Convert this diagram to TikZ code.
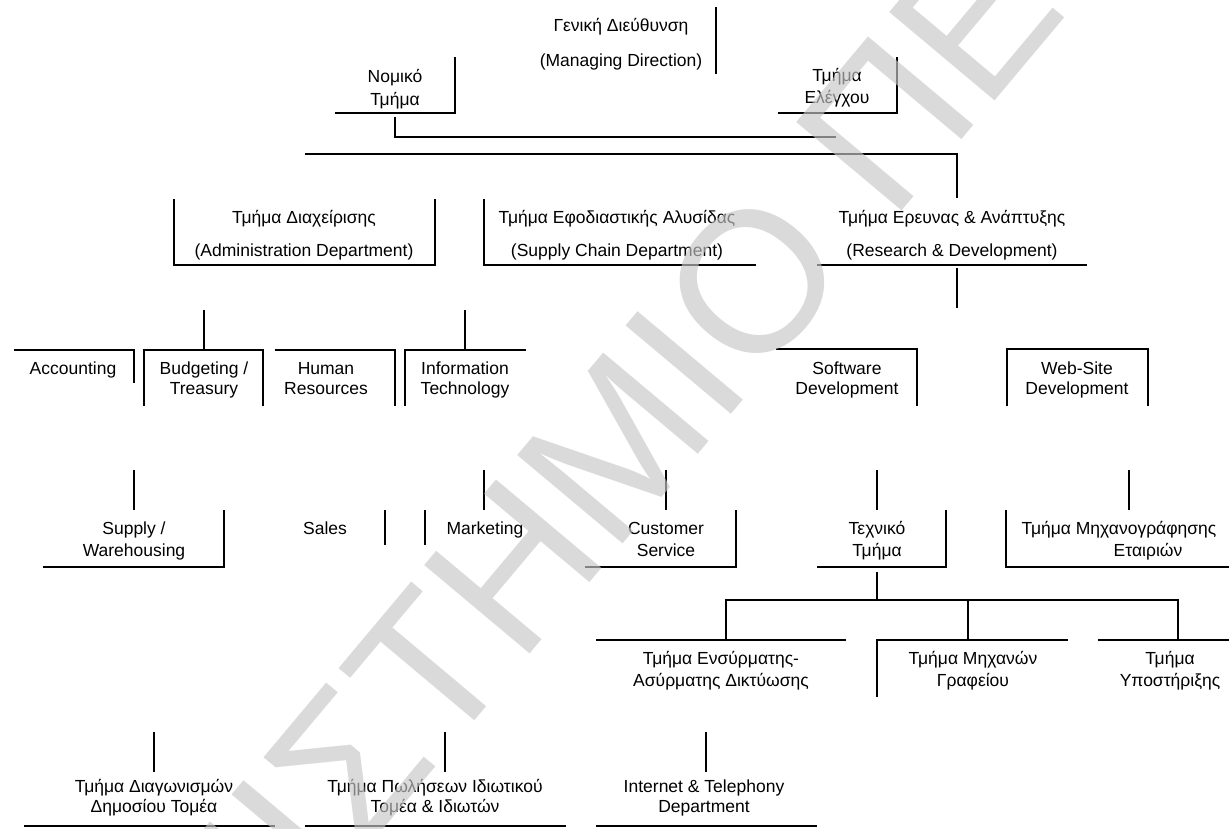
\documentclass[tikz,border=0pt]{standalone}
\usepackage{fontspec}
\setmainfont{Liberation Sans}
\begin{document}
\begin{tikzpicture}[x=1pt,y=-1pt]
\tikzset{
  lbl/.style={font=\fontsize{17.5}{20.5}\selectfont, inner sep=0pt, anchor=base},
  ln/.style={line width=1.8pt, draw=black},
  wm/.style={font=\fontsize{200}{200}\selectfont, text=black!22, text opacity=0.65, inner sep=0pt}
}
\fill[white] (0,0) rectangle (1229,828);
\useasboundingbox (0,0) rectangle (1229,828);

% ---------- top level ----------
\node[lbl] (gd1) at (621,31) {Γενική Διεύθυνση};
\node[lbl] (gd2) at (621,66) {(Managing Direction)};
\draw[ln] (716,7) -- (716,74);
\node[lbl] (legal1) at (395,82) {Νομικό};
\node[lbl] (legal2) at (395,105) {Τμήμα};
\draw[ln] (335,113) -- (455,113) -- (455,57);
\node[lbl] (ctrl1) at (837,81) {Τμήμα};
\draw[ln] (778,113) -- (897,113) -- (897,57);
\node[lbl] (ctrl2) at (837,103) {Ελέγχου};
\draw[ln] (395,117) -- (395,137) -- (836,137);
\draw[ln] (305,154) -- (957,154) -- (957,198);

% ---------- departments ----------
\node[lbl] (adm1) at (304,223) {Τμήμα Διαχείρισης};
\node[lbl] (adm2) at (304,256) {(Administration Department)};
\draw[ln] (174,199) -- (174,265) -- (435,265) -- (435,199);
\node[lbl] (sc1) at (617,223) {Τμήμα Εφοδιαστικής Αλυσίδας};
\node[lbl] (sc2) at (617,256) {(Supply Chain Department)};
\draw[ln] (484,199) -- (484,265) -- (756,265);
\node[lbl] (rd1) at (952,223) {Τμήμα Ερευνας \& Ανάπτυξης};
\node[lbl] (rd2) at (952,256) {(Research \& Development)};
\draw[ln] (817,265) -- (1087,265);
\draw[ln] (957,268) -- (957,308);

% ---------- third row ----------
\node[lbl] (acc) at (73,374) {Accounting};
\draw[ln] (14,350) -- (134,350) -- (134,383);
\node[lbl] (bud1) at (204,374) {Budgeting /};
\node[lbl] (bud2) at (204,394) {Treasury};
\draw[ln] (144,406) -- (144,350) -- (263,350) -- (263,406);
\draw[ln] (204,310) -- (204,350);
\node[lbl] (hr1) at (326,374) {Human};
\node[lbl] (hr2) at (326,394) {Resources};
\draw[ln] (275,350) -- (395,350) -- (395,406);
\node[lbl] (it1) at (465,374) {Information};
\node[lbl] (it2) at (465,394) {Technology};
\draw[ln] (405,406) -- (405,350) -- (526,350);
\draw[ln] (465,310) -- (465,350);
\node[lbl] (sw1) at (847,374) {Software};
\node[lbl] (sw2) at (847,394) {Development};
\draw[ln] (776,349) -- (917,349) -- (917,406);
\node[lbl] (web1) at (1077,374) {Web-Site};
\node[lbl] (web2) at (1077,394) {Development};
\draw[ln] (1007,406) -- (1007,349) -- (1148,349) -- (1148,406);

% ---------- fourth row ----------
\node[lbl] (sup1) at (134,534) {Supply /};
\node[lbl] (sup2) at (134,556) {Warehousing};
\draw[ln] (134,470) -- (134,510);
\draw[ln] (43,567) -- (224,567) -- (224,510);
\node[lbl] (sales) at (325,534) {Sales};
\draw[ln] (385,510) -- (385,545);
\node[lbl] (mkt) at (485,534) {Marketing};
\draw[ln] (425,510) -- (425,545);
\draw[ln] (484,470) -- (484,510);
\node[lbl] (cs1) at (666,534) {Customer};
\node[lbl] (cs2) at (666,556) {Service};
\draw[ln] (666,470) -- (666,510);
\draw[ln] (585,567) -- (736,567) -- (736,510);
\node[lbl] (tech1) at (877,534) {Τεχνικό};
\node[lbl] (tech2) at (877,556) {Τμήμα};
\draw[ln] (877,470) -- (877,510);
\draw[ln] (817,567) -- (946,567) -- (946,510);
\node[lbl] (mech1) at (1119,534) {Τμήμα Μηχανογράφησης};
\node[lbl] (mech2) at (1148,556) {Εταιριών};
\draw[ln] (1129,470) -- (1129,510);
\draw[ln] (1006,510) -- (1006,567) -- (1229,567);

% ---------- fifth row ----------
\draw[ln] (877,572) -- (877,600);
\draw[ln] (726,640) -- (726,600) -- (1178,600) -- (1178,640);
\draw[ln] (968,600) -- (968,640);
\node[lbl] (wire1) at (721,664) {Τμήμα Ενσύρματης-};
\node[lbl] (wire2) at (721,686) {Ασύρματης Δικτύωσης};
\draw[ln] (596,640) -- (846,640);
\node[lbl] (office1) at (973,664) {Τμήμα Μηχανών};
\node[lbl] (office2) at (973,686) {Γραφείου};
\draw[ln] (877,697) -- (877,640) -- (1068,640);
\node[lbl] (supp1) at (1170,664) {Τμήμα};
\node[lbl] (supp2) at (1170,686) {Υποστήριξης};
\draw[ln] (1098,640) -- (1229,640);

% ---------- sixth row ----------
\draw[ln] (154,732) -- (154,772);
\node[lbl] (tend1) at (154,792) {Τμήμα Διαγωνισμών};
\node[lbl] (tend2) at (154,812) {Δημοσίου Τομέα};
\draw[ln] (24,826) -- (275,826);
\draw[ln] (445,732) -- (445,772);
\node[lbl] (priv1) at (435,792) {Τμήμα Πωλήσεων Ιδιωτικού};
\node[lbl] (priv2) at (435,812) {Τομέα \& Ιδιωτών};
\draw[ln] (305,826) -- (566,826);
\draw[ln] (706,732) -- (706,772);
\node[lbl] (inet1) at (704,792) {Internet \& Telephony};
\node[lbl] (inet2) at (704,812) {Department};
\draw[ln] (596,826) -- (817,826);

% ---------- watermark ----------
\begin{scope}
\clip (0,0) rectangle (1229,828);
\node[wm, rotate=50, anchor=base east] (wm1) at (855.4,266.6) {ΠΑΝΕΠΙΣΤΗΜΙΟ};
\node[wm, rotate=50, anchor=base west] (wm2) at (891.2,224) {ΠΕΙΡΑΙΩΣ};
\end{scope}
\end{tikzpicture}
\end{document}
